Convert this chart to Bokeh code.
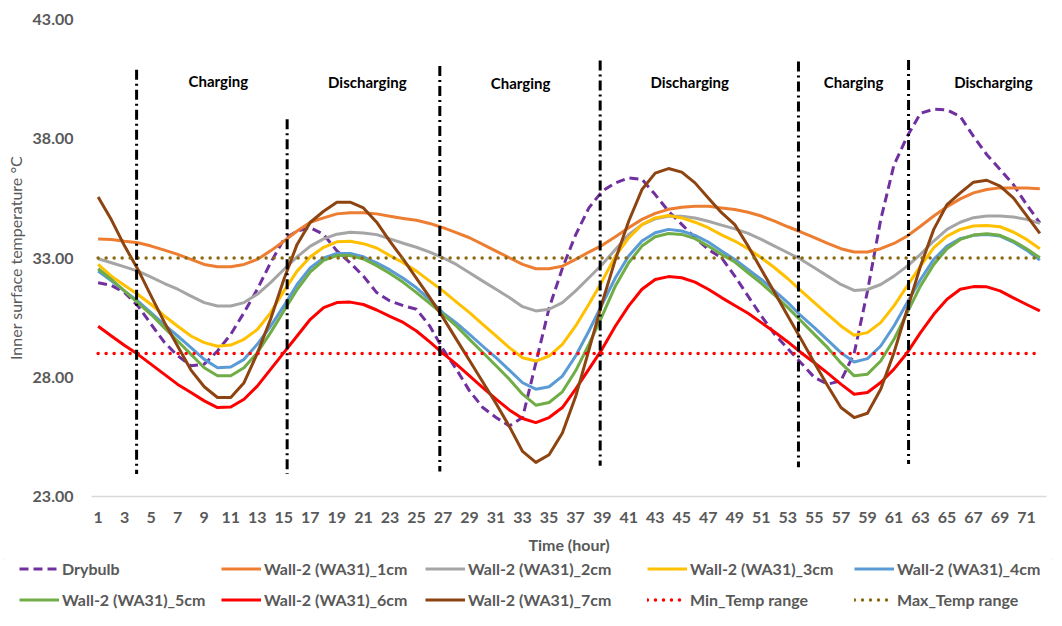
from bokeh.plotting import figure
from bokeh.layouts import column
from bokeh.models import Range1d, FixedTicker, NumeralTickFormatter, Legend, LegendItem
from bokeh.core.properties import value
from bokeh.embed import file_html
from bokeh.resources import INLINE

hours = list(range(1, 73))

drybulb = [31.96, 31.85, 31.55, 30.99, 30.22, 29.46, 28.90, 28.48, 28.55, 29.10, 29.80, 30.71,
           31.69, 32.80, 33.78, 34.13, 34.27, 33.99, 33.30, 32.80, 32.24, 31.55, 31.20, 31.00,
           30.85, 30.15, 29.18, 28.34, 27.43, 26.73, 26.31, 25.96, 26.31, 28.60, 30.90, 32.57,
           33.97, 35.10, 35.80, 36.15, 36.36, 36.30, 35.66, 34.96, 34.41, 33.85, 33.36, 33.01,
           32.24, 31.40, 30.57, 29.80, 29.20, 28.60, 27.99, 27.71, 27.85, 29.00, 31.60, 34.60,
           36.90, 38.10, 39.07, 39.24, 39.21, 38.93, 38.10, 37.33, 36.71, 36.08, 35.24, 34.47]

wall_1cm = [33.80, 33.78, 33.70, 33.64, 33.50, 33.33, 33.15, 32.94, 32.73, 32.63, 32.63, 32.73,
            32.94, 33.30, 33.70, 34.13, 34.50, 34.68, 34.85, 34.90, 34.90, 34.85, 34.75, 34.66,
            34.58, 34.45, 34.27, 34.06, 33.85, 33.57, 33.29, 33.01, 32.73, 32.55, 32.55, 32.66,
            32.94, 33.25, 33.53, 33.89, 34.27, 34.62, 34.87, 35.04, 35.13, 35.17, 35.17, 35.10,
            35.03, 34.92, 34.76, 34.55, 34.31, 34.09, 33.85, 33.61, 33.39, 33.25, 33.25, 33.39,
            33.61, 33.92, 34.33, 34.76, 35.15, 35.48, 35.73, 35.87, 35.94, 35.94, 35.93, 35.90]

wall_2cm = [32.97, 32.80, 32.63, 32.45, 32.20, 31.93, 31.69, 31.40, 31.13, 30.99, 30.99, 31.13,
            31.48, 31.97, 32.52, 33.05, 33.50, 33.80, 34.00, 34.08, 34.05, 33.98, 33.80, 33.62,
            33.45, 33.25, 33.01, 32.73, 32.38, 32.03, 31.69, 31.34, 30.96, 30.78, 30.85, 31.13,
            31.62, 32.17, 32.73, 33.36, 33.98, 34.40, 34.64, 34.75, 34.75, 34.68, 34.54, 34.38,
            34.22, 34.03, 33.78, 33.50, 33.22, 32.94, 32.59, 32.24, 31.89, 31.64, 31.68, 31.89,
            32.24, 32.66, 33.15, 33.71, 34.20, 34.50, 34.69, 34.76, 34.76, 34.72, 34.62, 34.45]

wall_3cm = [32.73, 32.24, 31.85, 31.47, 31.05, 30.57, 30.14, 29.73, 29.45, 29.30, 29.35, 29.59,
            30.00, 30.70, 31.61, 32.45, 33.05, 33.45, 33.68, 33.70, 33.60, 33.42, 33.10, 32.80,
            32.45, 32.03, 31.62, 31.16, 30.71, 30.22, 29.73, 29.24, 28.82, 28.68, 28.89, 29.38,
            30.15, 31.06, 32.03, 33.08, 33.84, 34.40, 34.68, 34.78, 34.68, 34.50, 34.27, 33.97,
            33.71, 33.39, 33.01, 32.59, 32.13, 31.62, 31.13, 30.64, 30.15, 29.76, 29.87, 30.29,
            30.99, 31.83, 32.66, 33.43, 33.92, 34.20, 34.34, 34.36, 34.31, 34.09, 33.78, 33.39]

wall_4cm = [32.45, 32.04, 31.61, 31.19, 30.70, 30.20, 29.73, 29.24, 28.75, 28.40, 28.43, 28.75,
            29.38, 30.14, 30.99, 31.89, 32.59, 33.00, 33.19, 33.19, 33.05, 32.80, 32.50, 32.15,
            31.75, 31.25, 30.70, 30.28, 29.80, 29.30, 28.82, 28.30, 27.77, 27.50, 27.60, 28.05,
            28.89, 29.94, 31.06, 32.17, 33.08, 33.71, 34.06, 34.20, 34.13, 33.95, 33.67, 33.29,
            32.94, 32.52, 32.10, 31.62, 31.13, 30.57, 30.08, 29.56, 29.03, 28.64, 28.78, 29.31,
            30.15, 31.13, 32.10, 32.94, 33.50, 33.81, 33.95, 33.99, 33.92, 33.67, 33.33, 32.91]

wall_5cm = [32.55, 32.10, 31.61, 31.12, 30.63, 30.07, 29.52, 28.96, 28.40, 28.06, 28.06, 28.40,
            29.03, 29.87, 30.78, 31.68, 32.42, 32.90, 33.10, 33.10, 32.96, 32.68, 32.35, 31.98,
            31.55, 31.10, 30.64, 30.15, 29.59, 29.04, 28.48, 27.92, 27.29, 26.83, 26.94, 27.39,
            28.27, 29.38, 30.57, 31.83, 32.80, 33.50, 33.89, 34.03, 33.99, 33.81, 33.50, 33.15,
            32.83, 32.38, 31.94, 31.44, 30.92, 30.36, 29.80, 29.24, 28.60, 28.06, 28.13, 28.68,
            29.59, 30.71, 31.83, 32.73, 33.39, 33.78, 33.96, 34.02, 33.95, 33.71, 33.39, 33.01]

wall_6cm = [30.14, 29.73, 29.33, 28.96, 28.54, 28.12, 27.70, 27.36, 27.01, 26.73, 26.75, 27.08,
            27.63, 28.33, 29.03, 29.73, 30.43, 30.92, 31.13, 31.15, 31.05, 30.82, 30.55, 30.30,
            29.94, 29.48, 29.00, 28.55, 28.06, 27.57, 27.08, 26.63, 26.27, 26.10, 26.31, 26.73,
            27.50, 28.34, 29.18, 30.15, 30.99, 31.69, 32.10, 32.22, 32.17, 31.99, 31.69, 31.34,
            31.01, 30.68, 30.29, 29.90, 29.48, 29.03, 28.61, 28.17, 27.71, 27.29, 27.36, 27.78,
            28.34, 29.03, 29.87, 30.64, 31.27, 31.69, 31.80, 31.79, 31.62, 31.33, 31.05, 30.78]

wall_7cm = [35.56, 34.60, 33.50, 32.52, 31.40, 30.30, 29.30, 28.30, 27.60, 27.15, 27.15, 27.77,
            29.00, 30.43, 32.10, 33.57, 34.50, 34.96, 35.34, 35.34, 35.10, 34.50, 33.70, 32.95,
            32.15, 31.35, 30.50, 29.60, 28.70, 27.80, 26.90, 25.94, 24.89, 24.43, 24.75, 25.66,
            27.19, 29.14, 31.13, 32.94, 34.54, 35.87, 36.56, 36.75, 36.60, 36.15, 35.52, 34.90,
            34.40, 33.50, 32.52, 31.55, 30.57, 29.59, 28.61, 27.64, 26.73, 26.31, 26.49, 27.50,
            29.03, 30.85, 32.66, 34.20, 35.24, 35.73, 36.18, 36.26, 36.01, 35.52, 34.78, 34.03]

min_temp_value = 29.0
max_temp_value = 33.0
min_temp = [min_temp_value for _ in hours]
max_temp = [max_temp_value for _ in hours]

# phase markers
phase_x = [3.9, 15.25, 26.76, 38.85, 53.8, 62.1]
phase_top = [40.89, 38.82, 41.05, 41.28, 41.24, 41.30]
phase_bottom = [23.94, 23.94, 24.05, 24.29, 24.23, 24.36]
phase_label_x = [10.06, 21.3, 32.85, 45.6, 57.96, 68.5]
phase_label_y = [40.43, 40.38, 40.34, 40.36, 40.38, 40.38]
phase_labels = ["Charging", "Discharging", "Charging", "Discharging", "Charging", "Discharging"]

x_ticks = list(range(1, 73, 2))
y_ticks = [23, 28, 33, 38, 43]

FONT = "Lato"
GREY = "#595959"

p = figure(width=1056, height=559, x_range=Range1d(0.5, 72.5), y_range=Range1d(23, 43),
           output_backend="svg", toolbar_location=None,
           min_border_left=91, min_border_right=10, min_border_top=19, min_border_bottom=63)
p.frame_align = False
p.xgrid.visible = False
p.ygrid.visible = False
p.outline_line_color = None
p.background_fill_color = "white"
p.border_fill_color = "white"

xa = p.xaxis[0]
xa.ticker = FixedTicker(ticks=x_ticks)
xa.axis_line_color = "#D9D9D9"
xa.axis_line_width = 1.5
xa.major_tick_line_color = None
xa.minor_tick_line_color = None
xa.major_tick_out = 0
xa.major_tick_in = 0
xa.major_label_standoff = 15
xa.major_label_text_font = FONT
xa.major_label_text_font_style = "bold"
xa.major_label_text_font_size = "16px"
xa.major_label_text_color = GREY
xa.axis_label = "Time (hour)"
xa.axis_label_text_font = FONT
xa.axis_label_text_font_style = "bold"
xa.axis_label_text_font_size = "16px"
xa.axis_label_text_color = GREY
xa.axis_label_standoff = 9

ya = p.yaxis[0]
ya.ticker = FixedTicker(ticks=y_ticks)
ya.formatter = NumeralTickFormatter(format="0.00")
ya.axis_line_color = None
ya.major_tick_line_color = None
ya.minor_tick_line_color = None
ya.major_tick_out = 0
ya.major_tick_in = 0
ya.major_label_standoff = 18
ya.major_label_text_font = FONT
ya.major_label_text_font_style = "bold"
ya.major_label_text_font_size = "16px"
ya.major_label_text_color = GREY
ya.axis_label = "Inner surface temperature °C"
ya.axis_label_text_font = FONT
ya.axis_label_text_font_style = "normal"
ya.axis_label_text_font_size = "16px"
ya.axis_label_text_color = GREY
ya.axis_label_standoff = 5

series = [
    ("Drybulb", drybulb, "#7030A0", "9 5", 3),
    ("Wall-2 (WA31)_1cm", wall_1cm, "#ED7D31", "solid", 3),
    ("Wall-2 (WA31)_2cm", wall_2cm, "#A5A5A5", "solid", 3),
    ("Wall-2 (WA31)_3cm", wall_3cm, "#FFC000", "solid", 3),
    ("Wall-2 (WA31)_4cm", wall_4cm, "#5B9BD5", "solid", 3),
    ("Wall-2 (WA31)_5cm", wall_5cm, "#70AD47", "solid", 3),
    ("Wall-2 (WA31)_6cm", wall_6cm, "#FF0000", "solid", 3),
    ("Wall-2 (WA31)_7cm", wall_7cm, "#8E4410", "solid", 3),
    ("Min_Temp range", min_temp, "#FF0000", "0 8", 3.5),
    ("Max_Temp range", max_temp, "#8A6A10", "0 8", 3.5),
]

for name, ys, color, dash, lw in series:
    cap = "round" if dash == "0 8" else "butt"
    p.line(hours, ys, line_color=color, line_width=lw, line_dash=dash, line_join="round",
           line_cap=cap)

p.segment(x0=phase_x, y0=phase_top, x1=phase_x, y1=phase_bottom, line_color="black",
          line_width=3, line_dash="10 4 2 4")
p.text(x=phase_label_x, y=phase_label_y, text=phase_labels, text_align="center",
       text_baseline="middle", text_font=value(FONT), text_font_style="bold",
       text_font_size="15px", text_color="black")

# legend strip below the chart (its own figure so the legend may span the full width);
# the series are drawn again there, out of view, so that the legend shows their styles
pl = figure(width=1056, height=60, x_range=Range1d(1000, 1001), y_range=Range1d(1000, 1001),
            output_backend="svg", toolbar_location=None,
            x_axis_location=None, y_axis_location=None,
            min_border_left=0, min_border_right=0, min_border_top=0, min_border_bottom=0)
pl.frame_align = False
pl.xgrid.visible = False
pl.ygrid.visible = False
pl.outline_line_color = None
pl.border_fill_color = "white"
pl.background_fill_color = "white"

items = {}
for name, ys, color, dash, lw in series:
    cap = "round" if dash == "0 8" else "butt"
    r = pl.line(hours, ys, line_color=color, line_width=lw, line_dash=dash, line_cap=cap)
    items[name] = LegendItem(label=name, renderers=[r])

def make_legend(names, x):
    return Legend(items=[items[n] for n in names], location=(x, 10), orientation="vertical",
                  glyph_width=40, glyph_height=15, label_height=15,
                  label_standoff=3, spacing=12, padding=0, margin=0,
                  border_line_color=None, background_fill_alpha=0,
                  label_text_font=FONT, label_text_font_style="bold",
                  label_text_font_size="16px", label_text_color=GREY)

names = [s[0] for s in series]
legend_columns = [([names[0], names[5]], 19), ([names[1], names[6]], 221),
                  ([names[2], names[7]], 425), ([names[3], names[8]], 647),
                  ([names[4], names[9]], 854)]
for col_names, col_x in legend_columns:
    pl.add_layout(make_legend(col_names, col_x), "center")

layout = column(p, pl, spacing=0)
layout.styles = {"outline": "1px solid #D9D9D9", "outline-offset": "-4px"}
open("out.html", "w").write(file_html(layout, INLINE))
